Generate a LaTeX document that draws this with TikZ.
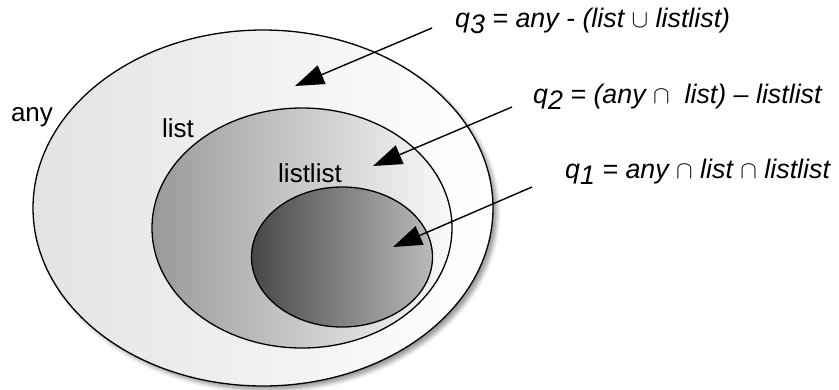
\documentclass[tikz,border=0pt]{standalone}
\usepackage{fontspec}
\setsansfont{Liberation Sans}
\usetikzlibrary{shapes.geometric, arrows.meta, shadows.blur}

\tikzset{
  setbox/.style={ellipse, draw=black, line width=1.3pt, inner sep=0pt},
  setname/.style={font=\fontsize{26}{30}\selectfont\sffamily, inner sep=0pt},
  querylabel/.style={font=\fontsize{26.8}{30}\selectfont\sffamily\itshape, anchor=base west, inner sep=0pt},
  pointer/.style={-{Triangle[length=29pt, width=20pt]}, line width=1.4pt},
}
\newcommand{\qsub}[1]{q\raisebox{-0.45ex}{#1}}

\begin{document}
\begin{tikzpicture}[x=1pt, y=-1pt]
    \useasboundingbox (0,0) rectangle (839,389);

    % 1. The three nested sets, outermost first
    \node[setbox, minimum width=460pt, minimum height=356pt,
          left color=black!11, middle color=black!4, right color=white,
          blur shadow={shadow xshift=4pt, shadow yshift=-4pt, shadow blur radius=4pt}]
        (any) at (263,208) {};
    \node[setbox, minimum width=300pt, minimum height=240pt,
          left color=black!40, middle color=black!22, right color=black!2]
        (list) at (302,228) {};
    \node[setbox, minimum width=181pt, minimum height=140pt,
          left color=black!72, right color=black!27]
        (listlist) at (342,257) {};

    % 2. Names of the sets
    \node[setname] (anyname) at (32,117) {any};
    \node[setname] (listname) at (178,128) {list};
    \node[setname] (listlistname) at (310,173) {listlist};

    % 3. Query definitions
    \node[querylabel] (q3) at (455,27) {\qsub{3} = any - (list $\cup$ listlist)};
    \node[querylabel] (q2) at (533,103) {\qsub{2} = (any $\cap$\ \ list) -- listlist};
    \node[querylabel] (q1) at (565,178) {\qsub{1} = any $\cap$ list $\cap$ listlist};

    % 4. Arrows from each query into its region
    \coordinate (in3) at (295,86);
    \coordinate (in2) at (373,166);
    \coordinate (in1) at (393,247);
    \foreach \q/\dx/\dy in {3/-23/-1, 2/-21/-4, 1/-33/-9} {
        \draw[pointer] ([xshift=\dx pt, yshift=\dy pt]q\q.base west) -- (in\q);
    }

\end{tikzpicture}
\end{document}
